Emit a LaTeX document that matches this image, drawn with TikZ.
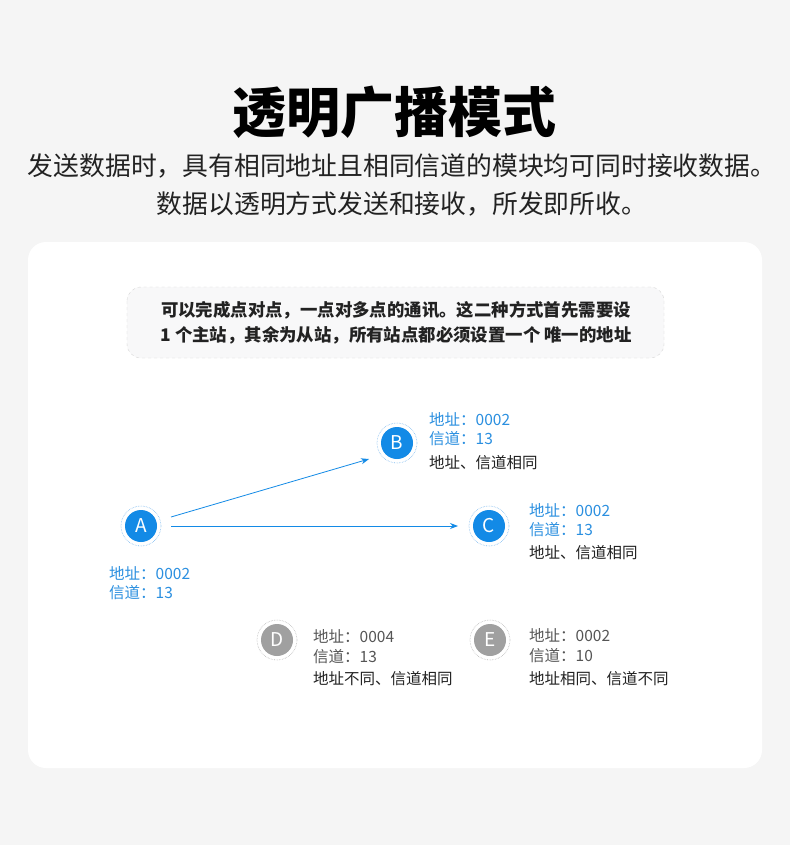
\documentclass[tikz,border=0pt]{standalone}
\usepackage{fontspec}
\setmainfont{Noto Sans CJK SC}
\newfontfamily\cjk{Noto Sans CJK SC}
\usetikzlibrary{arrows.meta}
\definecolor{bgc}{HTML}{F5F5F5}
\definecolor{bluec}{HTML}{138AE6}
\definecolor{labblue}{HTML}{2A8FE0}
\definecolor{ringblue}{HTML}{7DBAF0}
\definecolor{grayc}{HTML}{A0A0A0}
\definecolor{ringgray}{HTML}{B8B8B8}
\definecolor{graytxt}{HTML}{555555}
\definecolor{darktxt}{HTML}{222222}
\definecolor{boxfill}{HTML}{F8F8F9}
\definecolor{boxline}{HTML}{D6D6D6}
\tikzset{
  station/.style={circle,minimum size=32pt,inner sep=0pt,text=white,font=\fontsize{19}{19}\selectfont},
  bluest/.style={station,fill=bluec},
  grayst/.style={station,fill=grayc},
  ringb/.style={draw=ringblue,densely dotted,line width=0.6pt},
  ringg/.style={draw=ringgray,densely dotted,line width=0.6pt},
  lab/.style={anchor=west,inner sep=0pt,font=\fontsize{15.5}{16}\selectfont},
  bl/.style={lab,text=labblue},
  gl/.style={lab,text=graytxt},
  dl/.style={lab,text=darktxt},
  arr/.style={draw=bluec,line width=0.8pt,-{Stealth[length=8pt,width=6pt]}}
}
\begin{document}
\begin{tikzpicture}[x=1pt,y=-1pt]
\fill[bgc] (0,0) rectangle (790,845);
\useasboundingbox (0,0) rectangle (790,845);
\fill[white,rounded corners=18pt] (28,242) rectangle (762,768);
\node[font=\fontsize{54}{54}\selectfont\bfseries,text=black] (title) at (394,112) {透明广播模式};
\node[font=\fontsize{25.8}{26}\selectfont,text=darktxt] (sub1) at (402,166) {发送数据时，具有相同地址且相同信道的模块均可同时接收数据。};
\node[font=\fontsize{25.8}{26}\selectfont,text=darktxt] (sub2) at (402,204) {数据以透明方式发送和接收，所发即所收。};
\draw[boxline,dashed,fill=boxfill,rounded corners=14pt] (127,287) rectangle (664,358);
\node[font=\fontsize{17.4}{18}\selectfont\bfseries,text=darktxt] (t1) at (396,310) {可以完成点对点，一点对多点的通讯。这二种方式首先需要设};
\node[font=\fontsize{17.4}{18}\selectfont\bfseries,text=darktxt] (t2) at (396,335) {1 个主站，其余为从站，所有站点都必须设置一个 唯一的地址};
% stations
\node[bluest] (A) at (141,526) {A};
\node[bluest] (B) at (397,443) {B};
\node[bluest] (C) at (489,526) {C};
\node[grayst] (D) at (277,640) {D};
\node[grayst] (E) at (490,640) {E};
\draw[ringb] (A.center) circle (20);
\draw[ringb] (B.center) circle (20);
\draw[ringb] (C.center) circle (20);
\draw[ringg] (D.center) circle (20);
\draw[ringg] (E.center) circle (20);
% arrows
\draw[arr] ([shift={(30,-9)}]A.center) -- ([shift={(-28,16)}]B.center);
\draw[arr] ([shift={(30,0)}]A.center) -- ([shift={(-31,0)}]C.center);
% labels
\node[bl] (Ba) at (429,419) {地址：0002};
\node[bl] (Bc) at (429,439) {信道：13};
\node[dl] (Bs) at (429,463) {地址、信道相同};
\node[bl] (Ca) at (529,510) {地址：0002};
\node[bl] (Cc) at (529,530) {信道：13};
\node[dl] (Cs) at (529,553) {地址、信道相同};
\node[bl] (Aa) at (109,573) {地址：0002};
\node[bl] (Ac) at (109,593) {信道：13};
\node[gl] (Da) at (313,636) {地址：0004};
\node[gl] (Dc) at (313,657) {信道：13};
\node[dl] (Ds) at (313,679) {地址不同、信道相同};
\node[gl] (Ea) at (529,635) {地址：0002};
\node[gl] (Ec) at (529,656) {信道：10};
\node[dl] (Es) at (529,679) {地址相同、信道不同};
\end{tikzpicture}
\end{document}
